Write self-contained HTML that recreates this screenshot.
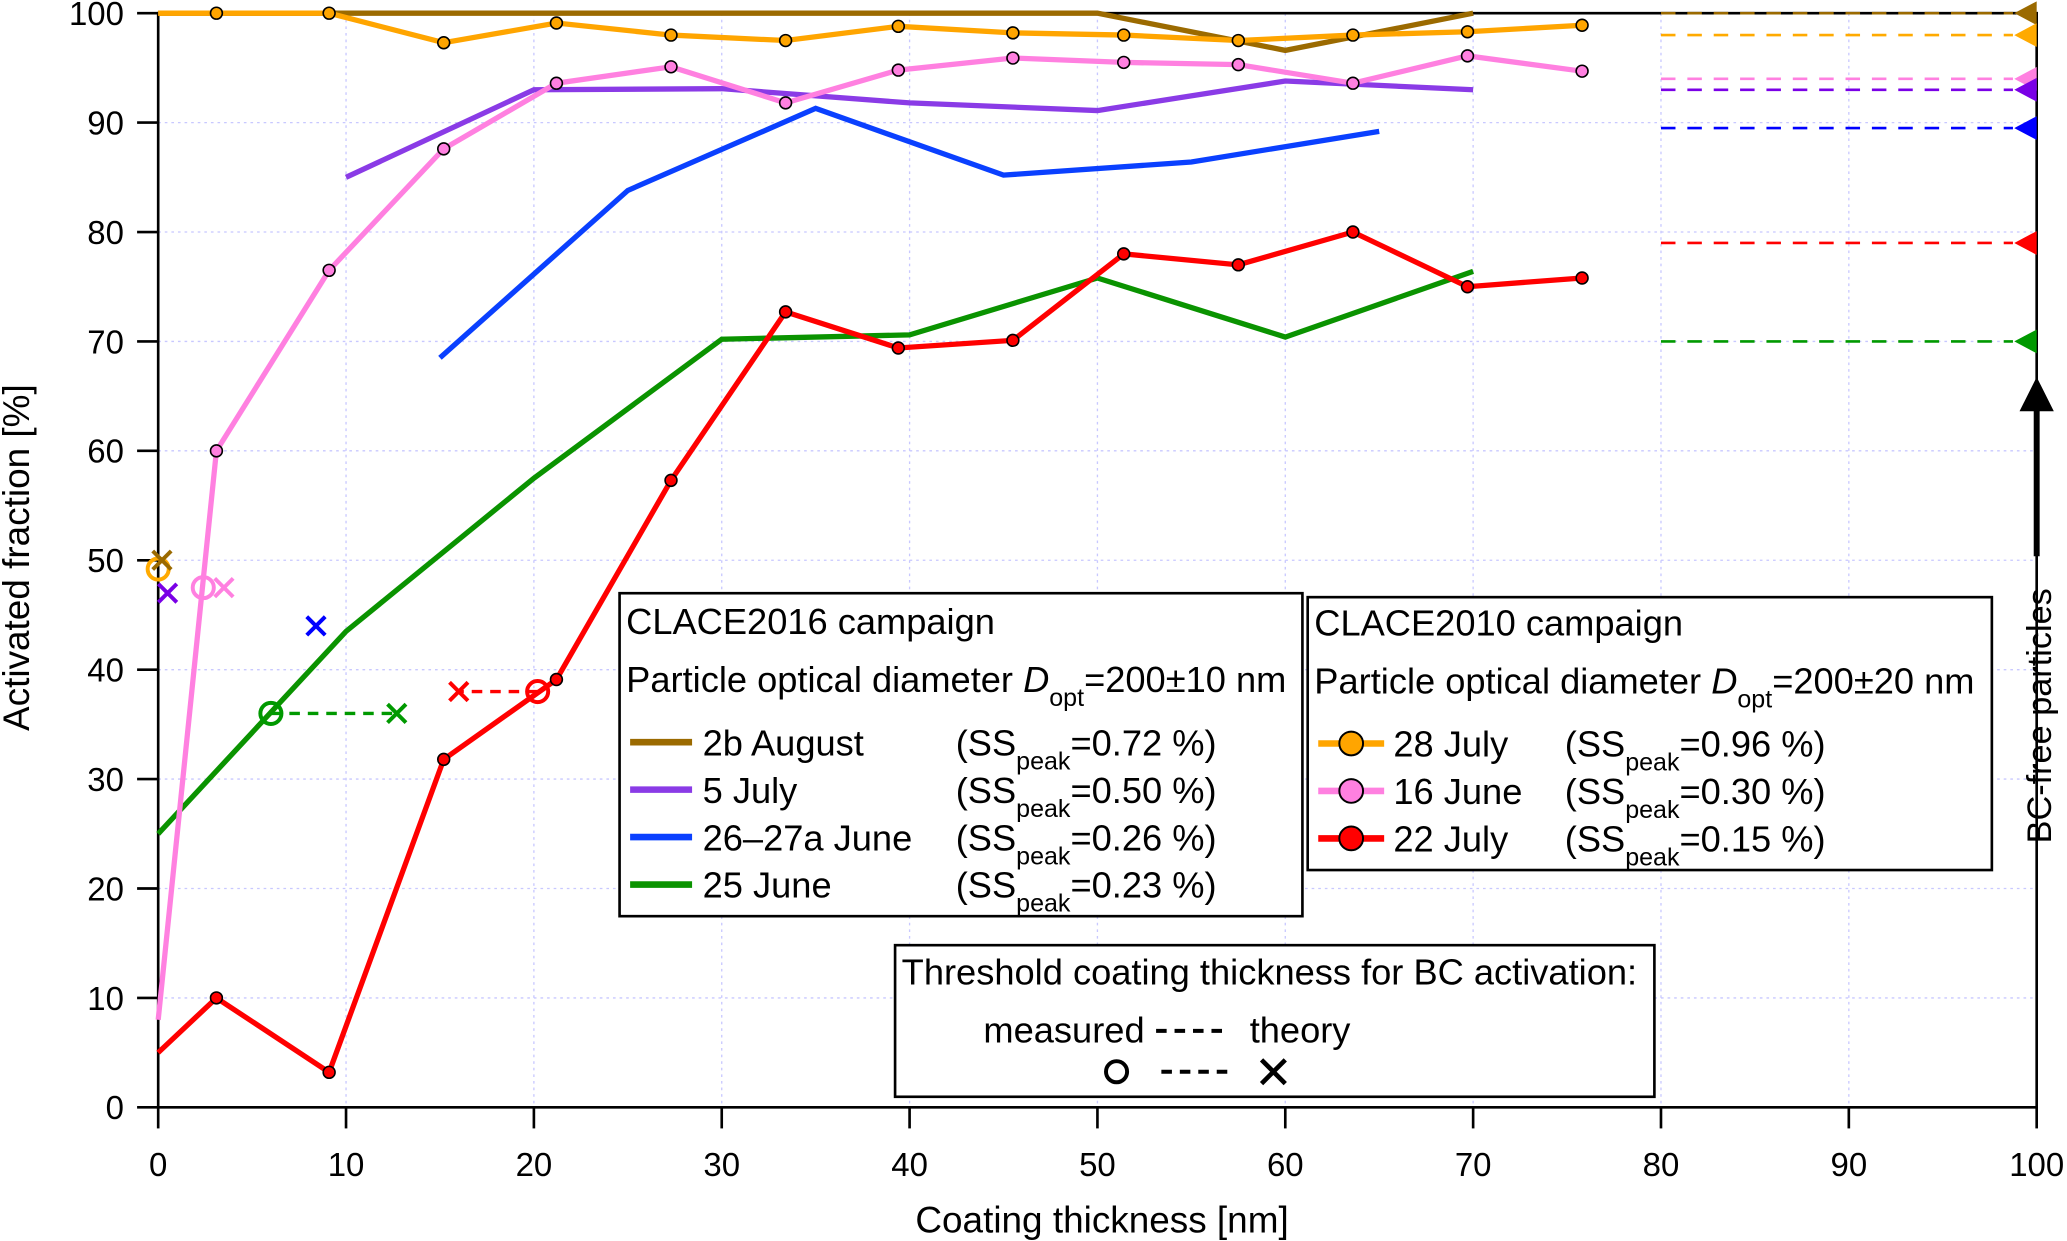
<!DOCTYPE html>
<html><head><meta charset="utf-8"><style>
html,body{margin:0;padding:0;background:#fff;}
svg{display:block;font-family:"Liberation Sans",Arial,sans-serif;}
</style></head><body>
<svg id="chart" width="2067" height="1241" viewBox="0 0 1568 941.4" xmlns="http://www.w3.org/2000/svg">
<g id="grid"></g>
<g id="axes"></g>
<g id="series"></g>
<g id="legends"></g>
</svg>
<script>
// ---- data ----
const xTicks = [0,10,20,30,40,50,60,70,80,90,100];
const yTicks = [0,10,20,30,40,50,60,70,80,90,100];
const brownX = [0,50,60,70];
const brownY = [100,100,96.6,100];
const purpleX = [10,20,30,40,50,60,70];
const purpleY = [85,93,93.1,91.8,91.1,93.8,93];
const blueX = [15,25,35,45,55,65];
const blueY = [68.5,83.8,91.3,85.2,86.4,89.2];
const greenX = [0,10,20,30,40,50,60,70];
const greenY = [25,43.5,57.5,70.2,70.6,75.8,70.4,76.4];
const orangeX = [0,3.1,9.1,15.2,21.2,27.3,33.4,39.4,45.5,51.4,57.5,63.6,69.7,75.8];
const orangeY = [100,100,100,97.3,99.1,98,97.5,98.8,98.2,98,97.5,98,98.3,98.9];
const pinkX = [0,3.1,9.1,15.2,21.2,27.3,33.4,39.4,45.5,51.4,57.5,63.6,69.7,75.8];
const pinkY = [8,60,76.5,87.6,93.6,95.1,91.8,94.8,95.9,95.5,95.3,93.6,96.1,94.7];
const redX = [0,3.1,9.1,15.2,21.2,27.3,33.4,39.4,45.5,51.4,57.5,63.6,69.7,75.8];
const redY = [5,10,3.2,31.8,39.1,57.3,72.7,69.4,70.1,78,77,80,75,75.8];
// threshold markers
const measuredNames = ['orange','pink','green','red'];
const measuredX = [0,2.4,6,20.2];
const measuredY = [49.2,47.5,36,38];
const theoryNames = ['brown','purple','pink','blue','green','red'];
const theoryX = [0.2,0.5,3.5,8.4,12.7,16];
const theoryY = [50,47,47.5,44,36,38];
// BC-free levels
const bcNames = ['brown','orange','pink','purple','blue','red','green'];
const bcY = [100,98,94,93,89.5,79,70];

const COL = {brown:'#9b6a00',orange:'#ffa500',pink:'#ff80e0',purple:'#8a3be6',blue:'#0a40ff',green:'#0a9300',red:'#ff0000'};
const MCOL = {brown:'#9b6a00',orange:'#ffaa00',pink:'#ff80e0',purple:'#7a00e6',blue:'#0000ff',green:'#009900',red:'#ff0000'};

const X0=120, X1=1545, Y0=840, Y1=10;
const sx = v => X0 + (X1-X0)*v/100;
const sy = v => Y0 - (Y0-Y1)*v/100;
const NS='http://www.w3.org/2000/svg';
function mk(tag, attrs, parent, text){
  const e=document.createElementNS(NS,tag);
  for(const k in attrs) e.setAttribute(k,attrs[k]);
  if(text!==undefined) e.textContent=text;
  parent.appendChild(e); return e;
}
const grid=document.getElementById('grid'), axes=document.getElementById('axes'),
      ser=document.getElementById('series'), leg=document.getElementById('legends');

// grid
xTicks.forEach(t=>{ if(t===0||t===100) return;
  const l=mk('line',{x1:sx(t),x2:sx(t),y1:Y1,y2:Y0,stroke:'#c8c8ff','stroke-width':1,'stroke-dasharray':'2,3'},grid);
   });
yTicks.forEach(t=>{ if(t===0||t===100) return;
  const l=mk('line',{x1:X0,x2:X1,y1:sy(t),y2:sy(t),stroke:'#c8c8ff','stroke-width':1,'stroke-dasharray':'2,3'},grid);
   });

// BC-free dashed lines + triangles
bcNames.forEach((n,i)=>{
  const l=mk('line',{x1:sx(80),x2:sx(100)-18,y1:sy(bcY[i]),y2:sy(bcY[i]),stroke:MCOL[n],'stroke-width':2,'stroke-dasharray':'11,9'},ser);
   
  const x=sx(100), y=sy(bcY[i]);
  const t=mk('polygon',{points:`${x},${y-9} ${x},${y+9} ${x-17},${y}`,fill:MCOL[n]},ser);
   
});

// frame & ticks
const fr=mk('rect',{x:X0,y:Y1,width:X1-X0,height:Y0-Y1,fill:'none',stroke:'#000','stroke-width':2},axes);
 
xTicks.forEach(t=>{
  const tk=mk('line',{x1:sx(t),x2:sx(t),y1:Y0,y2:Y0+16,stroke:'#000','stroke-width':2},axes);
   
  const lb=mk('text',{x:sx(t),y:Y0+52,'font-size':25,'text-anchor':'middle'},axes,String(t));
   
});
yTicks.forEach(t=>{
  const tk=mk('line',{x1:X0-16,x2:X0,y1:sy(t),y2:sy(t),stroke:'#000','stroke-width':2},axes);
   
  const lb=mk('text',{x:X0-26,y:sy(t)+9,'font-size':25,'text-anchor':'end'},axes,String(t));
   
});
const xt=mk('text',{x:836,y:935,'font-size':28,'text-anchor':'middle'},axes,'Coating thickness [nm]');
 
const yt=mk('text',{x:0,y:0,'font-size':28,'text-anchor':'middle',transform:'translate(22,423) rotate(-90)'},axes,'Activated fraction [%]');
 

// series lines
function line(xs,ys,n,name){
  const pts=xs.map((x,i)=>sx(x)+','+sy(ys[i])).join(' ');
  const p=mk('polyline',{points:pts,fill:'none',stroke:COL[n],'stroke-width':4,'stroke-linejoin':'miter'},ser);
   
}
function markers(xs,ys,n,name){
  xs.forEach((x,i)=>{ if(x===0) return;
    const c=mk('circle',{cx:sx(x),cy:sy(ys[i]),r:4.5,fill:COL[n],stroke:'#000','stroke-width':1.2},ser);
     });
}
line(purpleX,purpleY,'purple','series-5-july');
line(blueX,blueY,'blue','series-26-27a-june');
line(greenX,greenY,'green','series-25-june');
line(brownX,brownY,'brown','series-2b-august');
line(pinkX,pinkY,'pink','series-16-june');
line(orangeX,orangeY,'orange','series-28-july');
line(redX,redY,'red','series-22-july');
markers(pinkX,pinkY,'pink','point-16-june');
markers(orangeX,orangeY,'orange','point-28-july');
markers(redX,redY,'red','point-22-july');

// threshold connectors (green and red)
[['green',2,4],['red',3,5]].forEach(([n,mi,ti])=>{
  const l=mk('line',{x1:sx(measuredX[mi]),x2:sx(theoryX[ti]),y1:sy(measuredY[mi]),y2:sy(theoryY[ti]),stroke:MCOL[n],'stroke-width':2.5,'stroke-dasharray':'8,6'},ser);
   
});
measuredNames.forEach((n,i)=>{
  const c=mk('circle',{cx:sx(measuredX[i]),cy:sy(measuredY[i]),r:8,fill:'none',stroke:MCOL[n],'stroke-width':3},ser);
   
});
theoryNames.forEach((n,i)=>{
  const x=sx(theoryX[i]), y=sy(theoryY[i]), d=7;
  const p=mk('path',{d:`M${x-d},${y-d}L${x+d},${y+d}M${x-d},${y+d}L${x+d},${y-d}`,stroke:MCOL[n],'stroke-width':3,fill:'none'},ser);
   
});

// BC-free arrow
const ar=mk('line',{x1:1545,x2:1545,y1:422,y2:305,stroke:'#000','stroke-width':4.5},ser);
 
const ah=mk('polygon',{points:'1545,286 1532,312 1558,312',fill:'#000'},ser);
 
</script>

<script>
(function(){
const NS='http://www.w3.org/2000/svg';
const leg=document.getElementById('legends');
function mk(tag, attrs, parent){
  const e=document.createElementNS(NS,tag);
  for(const k in attrs) e.setAttribute(k,attrs[k]);
  parent.appendChild(e); return e;
}
function rect(x,y,w,h,name){
  const r=mk('rect',{x:x,y:y,width:w,height:h,fill:'#fff',stroke:'#000','stroke-width':2},leg);
   
}
function txt(x,y,html,name,size){
  const t=mk('text',{x:x,y:y,'font-size':size||27.5},leg);
  t.innerHTML=html;
   
}
const sub = s => `<tspan baseline-shift="sub" font-size="19">${s}</tspan><tspan baseline-shift="0">`;
// box 1
rect(470,450,518,245,'legend-clace2016');
txt(475,481,'CLACE2016 campaign','legend-title-2016');
txt(475,525,'Particle optical diameter <tspan font-style="italic">D</tspan>'+sub('opt')+'=200±10 nm</tspan>','legend-diameter-2016');
const rows1=[['#9b6a00','2b August','0.72'],['#8a3be6','5 July','0.50'],['#0a40ff','26–27a June','0.26'],['#0a9300','25 June','0.23']];
rows1.forEach((r,i)=>{
  const y=563+i*36;
  const l=mk('line',{x1:478,x2:525,y1:y,y2:y,stroke:r[0],'stroke-width':5},leg);
   
  txt(533,y+10,r[1],'legend-entry-label');
  txt(725,y+10,'(SS'+sub('peak')+'='+r[2]+' %)</tspan>','legend-entry-sspeak');
});
// box 2
rect(992,453,519,207,'legend-clace2010');
txt(997,482,'CLACE2010 campaign','legend-title-2010');
txt(997,526,'Particle optical diameter <tspan font-style="italic">D</tspan>'+sub('opt')+'=200±20 nm</tspan>','legend-diameter-2010');
const rows2=[['#ffa500','28 July','0.96'],['#ff80e0','16 June','0.30'],['#ff0000','22 July','0.15']];
rows2.forEach((r,i)=>{
  const y=564+i*36;
  const l=mk('line',{x1:1000,x2:1050,y1:y,y2:y,stroke:r[0],'stroke-width':5},leg);
   
  const c=mk('circle',{cx:1025,cy:y,r:9,fill:r[0],stroke:'#000','stroke-width':1.5},leg);
   
  txt(1057,y+10,r[1],'legend-entry-label');
  txt(1187,y+10,'(SS'+sub('peak')+'='+r[2]+' %)</tspan>','legend-entry-sspeak');
});
// box 3
rect(679,717,576,115,'legend-threshold');
txt(684,747,'Threshold coating thickness for BC activation:','legend-threshold-title');
txt(746,791,'measured','legend-measured-label');
txt(948,791,'theory','legend-theory-label');
let d=mk('line',{x1:877,x2:930,y1:782,y2:782,stroke:'#000','stroke-width':3,'stroke-dasharray':'8,6'},leg);
 
d=mk('line',{x1:881,x2:933,y1:813,y2:813,stroke:'#000','stroke-width':3,'stroke-dasharray':'8,6'},leg);
 
const c=mk('circle',{cx:847,cy:813,r:8,fill:'none',stroke:'#000','stroke-width':3},leg);
 
const x=mk('path',{d:'M957,804L975,822M957,822L975,804',stroke:'#000','stroke-width':3.5,fill:'none'},leg);
 
// BC-free text
const t=mk('text',{x:0,y:0,'font-size':26,'text-anchor':'middle',transform:'translate(1556,543) rotate(-90)'},leg);
t.textContent='BC-free particles';
 
})();
</script>
</body></html>
